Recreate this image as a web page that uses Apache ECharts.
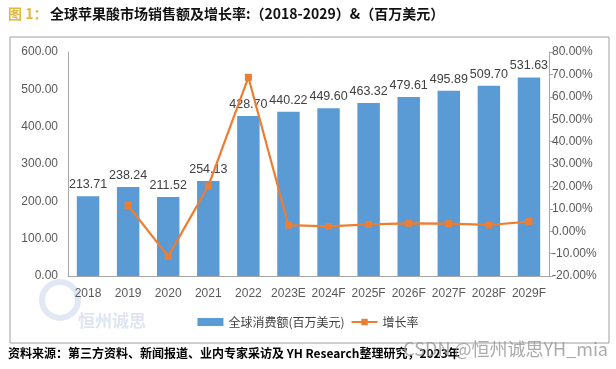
<!DOCTYPE html>
<html><head><meta charset="utf-8">
<script src="https://cdn.jsdelivr.net/npm/echarts@6/dist/echarts.min.js"></script>
<style>html,body{margin:0;padding:0;background:#fff}#c{width:616px;height:369px}</style>
</head><body><div id="c"></div>
<script>
const categories = ['2018','2019','2020','2021','2022','2023E','2024F','2025F','2026F','2027F','2028F','2029F'];
const salesValues = [213.71,238.24,211.52,254.13,428.70,440.22,449.60,463.32,479.61,495.89,509.70,531.63];
const growthValues = [null,11.48,-11.22,20.15,68.69,2.69,2.13,3.05,3.52,3.39,2.78,4.30];
const leftTicks = {min:0,max:600,interval:100};
const rightTicks = {min:-20,max:80,interval:10};

const chart = echarts.init(document.getElementById('c'), null, {renderer:'canvas'});
const axisLabelStyle = {color:'#595959', fontSize:12, fontFamily:'Liberation Sans, Arial, sans-serif'};
chart.setOption({
  animation:false,
  backgroundColor:'#fff',
  grid:{left:68,right:67,top:52,bottom:93,containLabel:false},
  xAxis:{type:'category',data:categories,
    axisLine:{lineStyle:{color:'#a6a6a6'}},axisTick:{show:false},
    axisLabel:Object.assign({margin:12,interval:0},axisLabelStyle)},
  yAxis:[
    {type:'value',min:leftTicks.min,max:leftTicks.max,interval:leftTicks.interval,
     splitLine:{show:false},axisLine:{show:true,lineStyle:{color:'#a6a6a6'}},axisTick:{show:false},
     axisLabel:Object.assign({margin:10,formatter:v=>v.toFixed(2)},axisLabelStyle)},
    {type:'value',min:rightTicks.min,max:rightTicks.max,interval:rightTicks.interval,
     splitLine:{show:false},axisLine:{show:true,lineStyle:{color:'#a6a6a6'}},
     axisTick:{show:true,length:4,lineStyle:{color:'#a6a6a6'}},
     axisLabel:Object.assign({margin:3,formatter:v=>v.toFixed(2)+'%'},axisLabelStyle)}
  ],
  legend:{bottom:36,left:'center',itemGap:6,itemWidth:26,itemHeight:8,
    textStyle:{color:'#404040',fontSize:12,fontFamily:'Noto Sans CJK SC, sans-serif'},
    data:[{name:'全球消费额(百万美元)',icon:'rect'},{name:'增长率'}]},
  series:[
    {name:'全球消费额(百万美元)',type:'bar',data:salesValues,barWidth:'56%',
     itemStyle:{color:'#5b9bd5'},
     label:{show:true,position:'top',distance:5,color:'#404040',fontSize:12.5,
       fontFamily:'Liberation Sans, Arial, sans-serif',formatter:p=>p.value.toFixed(2)}},
    {name:'增长率',type:'line',yAxisIndex:1,data:growthValues,
     symbol:'rect',symbolSize:7,connectNulls:false,
     lineStyle:{color:'#ed7d31',width:2.2},itemStyle:{color:'#ed7d31'}}
  ],
  graphic:[
    {type:'rect',shape:{x:10,y:37,width:599,height:306},style:{fill:'none',stroke:'#a0a0a0',lineWidth:1},z:-1},
    {type:'text',left:8,top:7,style:{text:'图 1：',fill:'#e3b93b',font:'bold 14px "Noto Sans CJK SC", sans-serif'}},
    {type:'text',left:50,top:7,style:{text:'全球苹果酸市场销售额及增长率:（2018-2029）&（百万美元）',fill:'#111',font:'bold 14px "Noto Sans CJK SC", sans-serif'}},
    {type:'text',left:78,top:312,style:{text:'恒州诚思',fill:'rgba(160,180,215,0.35)',font:'bold 17px "Noto Sans CJK SC", sans-serif'}},
    {type:'circle',shape:{cx:60,cy:300,r:18},style:{fill:'none',stroke:'rgba(160,180,215,0.3)',lineWidth:6}},
    {type:'text',left:8,top:347,style:{text:'资料来源：第三方资料、新闻报道、业内专家采访及 YH Research整理研究，2023年',fill:'#000',font:'bold 12px "Noto Sans CJK SC", sans-serif'}},
    {type:'text',right:8,top:340,style:{text:'CSDN @恒州诚思YH_mia',fill:'rgba(150,150,150,0.8)',font:'18px "Noto Sans CJK SC", sans-serif'}}
  ]
});
</script></body></html>
